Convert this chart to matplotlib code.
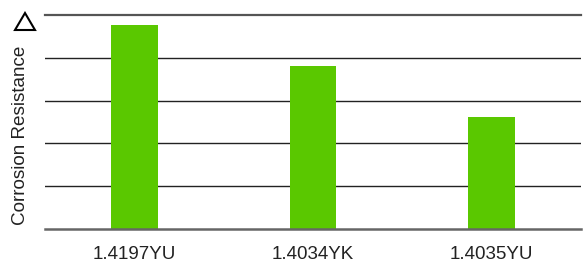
import matplotlib.pyplot as plt
from matplotlib.patches import Polygon

plt.rcParams['font.family'] = ['Liberation Sans', 'DejaVu Sans']

# data
alloys = ['1.4197YU', '1.4034YK', '1.4035YU']
resistance = [4.77, 3.81, 2.62]

fig = plt.figure(figsize=(5.84, 2.65), dpi=100)
ax = fig.add_axes([45 / 584, 36 / 265, 536 / 584, 214 / 265])

x = range(len(alloys))
ax.bar(x, resistance, width=0.26, color='#5ac800', zorder=3)

ax.set_xlim(-0.5, 2.5)
ax.set_ylim(0, 5)
ax.set_xticks(list(x))
ax.set_xticklabels(alloys, fontsize=13.5, color='#222222')
ax.set_yticks([])
ax.tick_params(axis='x', length=0, pad=12)

for v in [1, 2, 3, 4]:
    ax.axhline(v, color='#222222', lw=1.0, zorder=1)
ax.axhline(5, color='#555555', lw=1.6, zorder=1, clip_on=False)
ax.axhline(0, color='#666666', lw=1.8, zorder=4, clip_on=False)

for s in ax.spines.values():
    s.set_visible(False)

# axis title placed by hand, under the triangle
fig.text(21 / 584, 1 - 135 / 265, 'Corrosion Resistance', rotation=90, fontsize=13.6,
         color='#222222', ha='center', va='center')

# triangle marker at the top of the axis label
tri = Polygon([[15 / 584, 1 - 30 / 265], [35 / 584, 1 - 30 / 265], [25 / 584, 1 - 13 / 265]],
              closed=True, fill=False, edgecolor='black', lw=1.5, transform=fig.transFigure)
fig.add_artist(tri)

fig.savefig('out.png', dpi=100)
